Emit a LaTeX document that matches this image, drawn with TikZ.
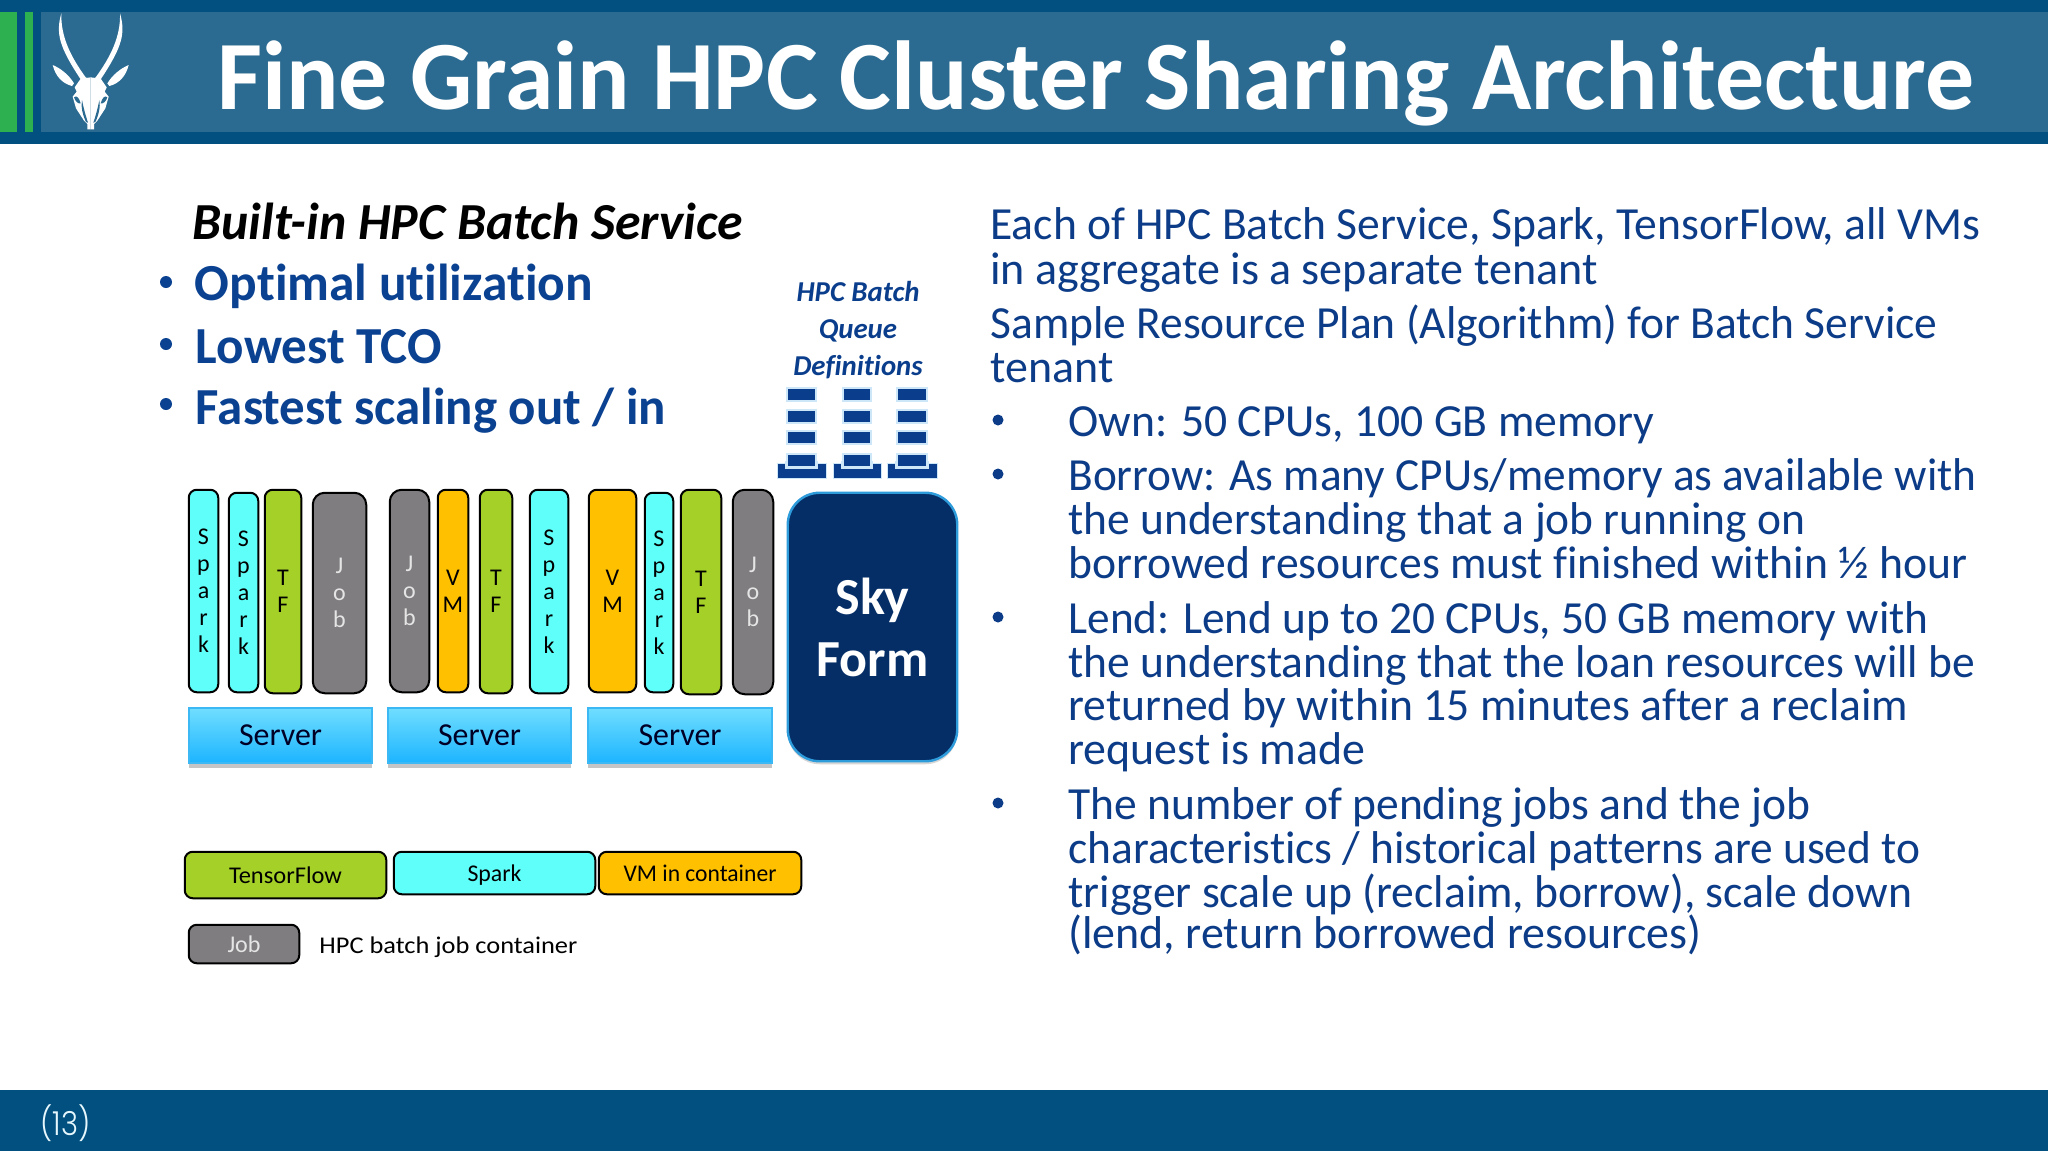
\documentclass[tikz,border=0pt]{standalone}
\usepackage{graphicx}
\usepackage{fontspec}
\setmainfont{Carlito}[RawFeature=-liga]
\newfontfamily\numfont{Poppins Light}
\usetikzlibrary{shadows}
\definecolor{bandDark}{RGB}{2,80,127}
\definecolor{bandMid}{RGB}{44,107,145}
\definecolor{barGreen}{RGB}{45,176,80}
\definecolor{txtBlue}{RGB}{12,60,135}
\definecolor{headBlue}{RGB}{10,65,145}
\definecolor{cSpark}{RGB}{95,255,250}
\definecolor{cTF}{RGB}{165,208,39}
\definecolor{cVM}{RGB}{255,192,0}
\definecolor{cJob}{RGB}{127,125,128}
\definecolor{skyFill}{RGB}{5,46,103}
\definecolor{skyEdge}{RGB}{46,155,219}
\definecolor{srvTop}{RGB}{112,222,255}
\definecolor{srvBot}{RGB}{28,180,255}
\definecolor{srvEdge}{RGB}{60,185,245}
\definecolor{queueBlue}{RGB}{10,62,140}
\definecolor{queueHalo}{RGB}{205,230,248}
\newsavebox\fitb
\newcommand\fitw[2]{\sbox\fitb{#2}\pgfmathsetmacro\fitr{#1*0.5/\the\wd\fitb}\scalebox{\fitr}[1]{\usebox\fitb}}
\tikzset{
  box/.style={draw=black,line width=1pt,rounded corners=4pt,inner sep=0pt,align=center,
    font=\fontsize{12}{13.5}\selectfont},
  sparkbox/.style={box,fill=cSpark},
  tfbox/.style={box,fill=cTF},
  vmbox/.style={box,fill=cVM},
  jobbox/.style={box,fill=cJob,text=white!90!black,rounded corners=6pt},
  serverbox/.style={draw=srvEdge,line width=.8pt,top color=srvTop,bottom color=srvBot,inner sep=0pt,
    font=\fontsize{16}{18}\selectfont,text=black!85!blue,
    drop shadow={shadow xshift=0pt,shadow yshift=-2.5pt,fill=black!50,opacity=.45}},
  rline/.style={anchor=base west,inner sep=0pt,text=txtBlue,font=\fontsize{23}{26}\selectfont},
  hline/.style={anchor=base west,inner sep=0pt,text=headBlue,font=\bfseries\fontsize{26}{28}\selectfont},
  legtext/.style={font=\fontsize{12}{14}\selectfont,text depth=0pt},
  qbar/.style={fill=queueBlue,draw=queueHalo,line width=.7pt},
  qtray/.style={fill=queueBlue,draw=queueHalo,line width=.5pt},
}
\newcommand\bx[7]{\node[#6,minimum width={(#4-#2-1.5)*0.5pt},minimum height={(#5-#3-1.5)*0.5pt}] (#1) at ({(#2+#4)/2},{(#3+#5)/2}) {#7};}
\newcommand\qstack[3]{% name, left of bars, right of bars
  \fill[qtray,draw=queueHalo] ({#2-10},463) rectangle ({#3+10},478);
  \fill[queueHalo] ({#2-2},461) rectangle ({#3+2},469);
  \draw[qbar] (#2,388) rectangle (#3,401);
  \draw[qbar] (#2,410) rectangle (#3,423);
  \draw[qbar] (#2,431) rectangle (#3,444);
  \draw[qbar] (#2,454) rectangle (#3,467);
}
\begin{document}
\begin{tikzpicture}[x=0.5pt,y=-0.5pt]
\useasboundingbox (0,0) rectangle (2048,1151);
\fill[white] (0,0) rectangle (2048,1151);
% header
\fill[bandDark] (0,0) rectangle (2048,144);
\fill[bandMid] (41,12) rectangle (2048,132);
\fill[barGreen] (0,12) rectangle (17,132);
\fill[barGreen] (25,12) rectangle (33,132);
% footer
\fill[bandDark] (0,1090) rectangle (2048,1151);
\node[anchor=base west,inner sep=0pt,text=white!90!cyan,font=\numfont\fontsize{16.5}{18}\selectfont] (pageno) at (40,1135) {\fitw{50}{(13)}};
% logo
\begin{scope}[x=0.1667pt,y=-0.1667pt]
 \foreach \s in {1,-1}{
 \begin{scope}[shift={(272,0)},xscale=\s]
  % horn
  \fill[white] (-88,40) .. controls (-105,100) and (-95,140) .. (-30,238) -- (-5,238) -- (-15,232)
     .. controls (-60,170) and (-90,110) .. (-88,40) -- cycle;
  % ear
  \fill[white] (-114,195) .. controls (-90,205) and (-65,225) .. (-50,250) -- (-56,258) .. controls (-85,250) and (-105,230) .. (-114,195) -- cycle;
  % head
  \fill[white] (0,232) -- (-30,236) -- (-48,262) -- (-42,275) -- (-54,290) -- (-44,325) -- (-20,362) -- (-10,372) -- (-10,388) -- (0,388) -- cycle;
  % eye and cheek
  \fill[bandMid] (-50,292) .. controls (-42,284) and (-34,295) .. (-30,310) .. controls (-38,312) and (-46,304) .. (-50,292) -- cycle;
  \fill[bandMid] (-26,300) .. controls (-20,330) and (-14,350) .. (-8,368) -- (-14,366) .. controls (-24,345) and (-30,320) .. (-26,300) -- cycle;
 \end{scope}}
\end{scope}
% title
\node[anchor=base west,inner sep=0pt,text=white,font=\bfseries\fontsize{49}{52}\selectfont] (title) at (217,109.5)
  {\fitw{1757}{Fine Grain HPC Cluster Sharing Architecture}};
% left heading
\node[anchor=base west,inner sep=0pt,text=black,font=\bfseries\itshape\fontsize{26}{28}\selectfont] (built) at (192,239.5)
  {\fitw{550}{Built-in HPC Batch Service}};
\node[hline] (h1) at (194.5,300) {\fitw{398}{Optimal utilization}};
\node[hline] (h2) at (195.5,363.5) {\fitw{246}{Lowest TCO}};
\node[hline] (h3) at (195.5,424) {\fitw{470}{Fastest scaling out / in}};
\fill[headBlue] (166,282) circle (6);
\fill[headBlue] (166,344) circle (6);
\fill[headBlue] (166,404) circle (6);
% containers
\bx{s1}{188}{489}{219}{693}{sparkbox}{S\\p\\a\\r\\k}
\bx{s2}{228}{492}{259}{693}{sparkbox}{S\\p\\a\\r\\k}
\bx{t1}{264}{489}{302}{694}{tfbox}{T\\F}
\bx{j1}{312}{492}{367}{694}{jobbox}{J\\o\\b}
\bx{j2}{389}{489}{430}{693}{jobbox}{J\\o\\b}
\bx{v1}{437}{489}{469}{693}{vmbox}{V\\M}
\bx{t2}{479}{489}{513}{694}{tfbox}{T\\F}
\bx{s3}{529}{489}{569}{694}{sparkbox}{S\\p\\a\\r\\k}
\bx{v2}{588}{489}{637}{693}{vmbox}{V\\M}
\bx{s4}{644}{492}{674}{693}{sparkbox}{S\\p\\a\\r\\k}
\bx{t3}{680}{489}{722}{695}{tfbox}{T\\F}
\bx{j3}{732}{489}{774}{695}{jobbox}{J\\o\\b}
% servers
\bx{srv1}{188}{707}{373}{764}{serverbox}{\fitw{83}{Server}}
\bx{srv2}{387}{707}{572}{764}{serverbox}{\fitw{83}{Server}}
\bx{srv3}{587}{707}{773}{764}{serverbox}{\fitw{83}{Server}}
% sky form
\bx{sky}{787}{492}{958}{762}{draw=skyEdge,line width=1.2pt,fill=skyFill,rounded corners=16pt,text=white,align=center,inner sep=0pt,font=\bfseries\fontsize{26}{31}\selectfont,drop shadow={shadow xshift=0pt,shadow yshift=-1.5pt,fill=black!40,opacity=.4}}{Sky\\Form}
% queues
\node[inner sep=0pt,align=center,text=queueBlue,font=\bfseries\itshape\fontsize{14.4}{18.3}\selectfont] (qlabel) at (858,330)
  {HPC Batch\\Queue\\Definitions};
\qstack{q1}{787}{816}
\qstack{q2}{843}{871}
\qstack{q3}{897}{927}
% legend
\bx{lt}{184}{851}{387}{899}{box,fill=cTF,legtext}{\fitw{113}{TensorFlow}}
\bx{ls}{393}{851}{596}{895}{box,fill=cSpark,legtext}{\fitw{54}{Spark}}
\bx{lv}{598}{851}{802}{895}{box,fill=cVM,legtext}{\fitw{153}{VM in container}}
\bx{lj}{188}{924}{300}{964}{box,fill=cJob,text=white!90!black,legtext}{\fitw{33}{Job}}
\node[anchor=base west,inner sep=0pt,legtext] (lh) at (319,953) {\fitw{258}{HPC batch job container}};
% right text
\node[rline] (r1) at (990,239) {\fitw{990}{Each of HPC Batch Service, Spark, TensorFlow, all VMs}};
\node[rline] (r2) at (990,284) {\fitw{607}{in aggregate is a separate tenant}};
\node[rline] (r3) at (990,338) {\fitw{947}{Sample Resource Plan (Algorithm) for Batch Service}};
\node[rline] (r4) at (990,382) {\fitw{123}{tenant}};
\node[rline] (r5) at (1068,436) {\fitw{586}{Own: 50 CPUs, 100 GB memory}};
\node[rline] (r6) at (1068,490) {\fitw{908}{Borrow: As many CPUs/memory as available with}};
\node[rline] (r7) at (1068,534) {\fitw{737}{the understanding that a job running on}};
\node[rline] (r8) at (1068,578) {\fitw{899}{borrowed resources must finished within ½ hour}};
\node[rline] (r9) at (1068,633) {\fitw{860}{Lend: Lend up to 20 CPUs, 50 GB memory with}};
\node[rline] (r10) at (1068,677) {\fitw{907}{the understanding that the loan resources will be}};
\node[rline] (r11) at (1068,720) {\fitw{840}{returned by within 15 minutes after a reclaim}};
\node[rline] (r12) at (1068,764) {\fitw{297}{request is made}};
\node[rline] (r13) at (1068,819) {\fitw{742}{The number of pending jobs and the job}};
\node[rline] (r14) at (1068,863) {\fitw{852}{characteristics / historical patterns are used to}};
\node[rline] (r15) at (1068,907) {\fitw{844}{trigger scale up (reclaim, borrow), scale down}};
\node[rline] (r16) at (1068,948) {\fitw{633}{(lend, return borrowed resources)}};
\fill[txtBlue] (998,420) circle (5.5);
\fill[txtBlue] (998,474) circle (5.5);
\fill[txtBlue] (998,617) circle (5.5);
\fill[txtBlue] (998,803) circle (5.5);
\end{tikzpicture}
\end{document}
